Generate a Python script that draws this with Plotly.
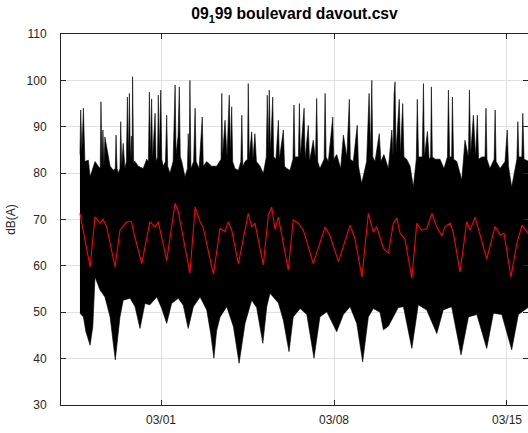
import pandas as pd
import plotly.graph_objects as go

# time axis: days relative to 2017-03-01 00:00, values in dB(A)
base = pd.Timestamp("2017-03-01")

# upper envelope of the raw levels (black band)
upper_days = [-3.28, -3.25, -3.20, -3.14, -3.08, -2.94, -2.87, -2.67, -2.54, -2.46,
              -2.43, -2.39, -2.35, -2.31, -2.27, -2.13, -2.06, -1.93, -1.85, -1.82,
              -1.78, -1.73, -1.66, -1.63, -1.59, -1.53, -1.46, -1.40, -1.36, -1.32,
              -1.28, -1.24, -1.20, -1.17, -1.15, -1.11, -1.05, -0.92, -0.72, -0.58,
              -0.51, -0.47, -0.43, -0.38, -0.34, -0.24, -0.20, -0.14, -0.11, -0.07,
              -0.01, 0.03, 0.09, 0.18, 0.23, 0.27, 0.36, 0.49, 0.57, 0.61,
              0.69, 0.74, 0.78, 0.84, 0.97, 1.07, 1.10, 1.14, 1.17, 1.21,
              1.32, 1.38, 1.42, 1.54, 1.67, 1.71, 1.85, 2.05, 2.25, 2.43,
              2.46, 2.49, 2.59, 2.67, 2.76, 2.81, 2.86, 2.90, 2.99, 3.13,
              3.23, 3.27, 3.31, 3.40, 3.50, 3.53, 3.57, 3.67, 3.72, 3.80,
              3.86, 4.01, 4.14, 4.26, 4.30, 4.34, 4.38, 4.43, 4.52, 4.56,
              4.65, 4.75, 4.79, 4.95, 5.00, 5.09, 5.22, 5.34, 5.38, 5.42,
              5.56, 5.60, 5.64, 5.79, 5.83, 5.96, 6.01, 6.16, 6.25, 6.30,
              6.34, 6.43, 6.60, 6.64, 6.68, 6.77, 6.95, 6.99, 7.11, 7.27,
              7.38, 7.52, 7.62, 7.66, 7.78, 7.94, 7.99, 8.12, 8.32, 8.42,
              8.48, 8.53, 8.57, 8.66, 8.83, 8.90, 9.02, 9.20, 9.34, 9.39,
              9.43, 9.47, 9.51, 9.64, 9.69, 9.78, 9.83, 9.94, 10.08, 10.21,
              10.33, 10.37, 10.42, 10.57, 10.62, 10.66, 10.78, 10.85, 10.91, 10.94,
              10.98, 11.09, 11.29, 11.45, 11.59, 11.63, 11.68, 11.76, 11.79, 11.84,
              11.97, 12.17, 12.30, 12.44, 12.48, 12.53, 12.64, 12.73, 12.80, 12.85,
              12.98, 13.11, 13.15, 13.19, 13.31, 13.48, 13.52, 13.56, 13.72, 13.92,
              14.01, 14.06, 14.19, 14.40, 14.44, 14.48, 14.60, 14.64, 14.69, 14.90]
upper_db = [84.0, 93.6, 84.5, 94.0, 82.5, 82.8, 79.2, 82.5, 81.5, 81.0,
            95.4, 82.5, 89.3, 81.5, 87.8, 84.0, 81.5, 80.6, 81.0, 88.2,
            81.0, 80.0, 81.0, 91.1, 81.5, 86.4, 81.0, 82.5, 96.4, 83.0,
            97.2, 82.5, 88.0, 82.5, 100.8, 82.5, 82.5, 81.5, 81.0, 83.0,
            82.5, 97.5, 83.5, 96.0, 83.0, 92.9, 82.5, 83.5, 96.8, 84.0,
            97.9, 83.0, 81.5, 82.5, 92.5, 81.5, 80.0, 82.5, 99.0, 84.0,
            88.0, 98.6, 83.5, 82.5, 79.2, 81.0, 88.5, 82.5, 100.0, 81.0,
            82.5, 94.0, 82.5, 81.0, 92.1, 81.5, 82.5, 81.5, 81.5, 83.0,
            97.2, 83.5, 91.4, 83.5, 96.8, 84.5, 94.3, 82.5, 81.0, 80.6,
            82.5, 92.5, 81.5, 82.5, 83.0, 99.3, 83.5, 88.9, 83.0, 88.5,
            82.5, 81.5, 79.9, 83.5, 96.8, 84.5, 97.9, 84.5, 96.4, 83.5,
            83.0, 91.4, 83.0, 89.3, 81.5, 81.0, 80.6, 83.0, 94.7, 83.5,
            83.5, 95.0, 83.5, 94.0, 83.0, 90.3, 82.5, 87.1, 83.0, 96.1,
            82.5, 81.0, 83.0, 97.2, 83.5, 82.5, 92.1, 83.0, 84.0, 81.0,
            88.2, 83.5, 95.9, 83.0, 82.5, 90.3, 81.5, 77.8, 82.5, 97.2,
            84.5, 100.0, 83.5, 82.5, 88.5, 82.5, 84.0, 81.0, 89.3, 83.5,
            96.8, 99.7, 84.5, 95.9, 84.0, 95.0, 83.5, 83.0, 81.5, 77.0,
            83.0, 95.9, 83.5, 83.5, 99.3, 83.5, 89.0, 83.0, 83.5, 98.6,
            83.5, 83.0, 83.0, 81.0, 83.5, 97.9, 83.5, 83.5, 96.4, 83.0,
            82.5, 78.5, 87.1, 83.5, 97.9, 84.0, 92.5, 83.5, 92.5, 83.0,
            83.5, 83.5, 94.0, 83.0, 81.0, 83.0, 93.6, 82.5, 81.0, 82.5,
            89.3, 81.5, 77.0, 83.0, 91.1, 83.5, 83.5, 92.9, 83.0, 82.5]

# lower envelope of the raw levels
lower_days = [-3.28, -3.14, -3.04, -2.87, -2.76, -2.67, -2.47, -2.27, -2.06, -1.85,
              -1.66, -1.53, -1.25, -1.05, -0.85, -0.65, -0.45, -0.17, 0.03, 0.23,
              0.43, 0.70, 0.90, 1.10, 1.31, 1.58, 1.85, 2.01, 2.14, 2.25,
              2.39, 2.66, 2.93, 3.16, 3.40, 3.67, 3.87, 4.12, 4.28, 4.41,
              4.75, 4.95, 5.18, 5.35, 5.63, 5.90, 6.19, 6.43, 6.71, 7.11,
              7.38, 7.65, 7.92, 8.16, 8.39, 8.59, 8.86, 9.00, 9.20, 9.40,
              9.60, 9.81, 10.15, 10.41, 10.75, 11.16, 11.42, 11.76, 12.14, 12.44,
              12.78, 13.18, 13.45, 13.79, 14.19, 14.46, 14.90]
lower_db = [49.8, 49.0, 45.8, 42.9, 46.9, 57.6, 54.8, 53.3, 49.0, 39.7,
            49.0, 52.6, 53.0, 51.2, 46.5, 51.9, 51.6, 53.3, 50.8, 47.6,
            51.9, 53.0, 51.5, 46.5, 51.2, 53.3, 50.5, 45.4, 40.1, 46.0,
            49.0, 51.2, 46.9, 39.0, 47.6, 52.6, 51.0, 43.3, 51.2, 54.1,
            52.0, 48.3, 41.5, 49.0, 50.8, 49.5, 40.1, 49.0, 50.1, 45.8,
            49.5, 51.2, 47.6, 39.3, 49.0, 50.8, 50.0, 46.2, 47.0, 49.0,
            51.0, 51.2, 42.2, 51.6, 50.5, 45.4, 50.5, 51.2, 40.8, 49.0,
            49.5, 42.2, 49.8, 49.5, 41.9, 49.5, 51.2]

# hourly average (red line)
avg_days = [-3.28, -2.87, -2.67, -2.47, -2.34, -2.20, -1.86, -1.66, -1.39, -1.19,
            -1.12, -0.78, -0.45, -0.24, -0.11, -0.04, 0.23, 0.57, 0.70, 1.17,
            1.38, 1.58, 1.70, 2.12, 2.39, 2.59, 2.72, 2.86, 3.13, 3.40,
            3.53, 3.67, 3.80, 4.14, 4.34, 4.48, 4.61, 4.75, 5.15, 5.35,
            5.56, 5.76, 5.96, 6.16, 6.64, 6.84, 7.18, 7.65, 7.85, 8.13,
            8.39, 8.59, 8.73, 9.00, 9.20, 9.40, 9.54, 9.67, 9.87, 10.15,
            10.35, 10.55, 10.75, 10.96, 11.16, 11.36, 11.49, 11.70, 11.83, 12.10,
            12.37, 12.51, 12.71, 13.18, 13.52, 13.72, 13.88, 14.16, 14.40, 14.61,
            14.85]
avg_db = [71.3, 59.8, 70.6, 69.2, 70.0, 68.4, 59.8, 67.7, 69.5, 69.5,
          67.5, 60.5, 69.5, 68.4, 69.5, 67.7, 61.2, 73.5, 71.7, 58.4,
          72.7, 69.5, 68.4, 58.2, 68.1, 67.4, 69.5, 67.7, 60.5, 67.7,
          71.3, 68.4, 69.2, 60.2, 70.9, 72.7, 67.9, 70.5, 59.1, 69.9,
          69.2, 67.7, 63.8, 60.5, 68.4, 66.5, 60.9, 68.8, 65.8, 57.6,
          71.3, 67.3, 68.4, 63.8, 62.7, 69.2, 70.3, 67.1, 65.8, 57.3,
          69.2, 67.7, 68.0, 71.3, 68.4, 66.5, 68.4, 69.2, 67.1, 58.7,
          69.5, 67.7, 70.5, 61.5, 68.5, 66.7, 67.0, 57.6, 64.9, 68.8,
          67.0]

tick_days = [0, 7, 14]
y_ticks = [30, 40, 50, 60, 70, 80, 90, 100, 110]


def to_time(days):
    return base + pd.to_timedelta(pd.Series(days, dtype=float), unit="D")


band_t = pd.concat([to_time(upper_days), to_time(lower_days[::-1])])
band_y = upper_db + lower_db[::-1]

fig = go.Figure()
fig.add_trace(go.Scatter(x=band_t, y=band_y, fill="toself", fillcolor="black",
                         mode="lines", line=dict(color="black", width=0.6),
                         hoverinfo="skip"))
fig.add_trace(go.Scatter(x=to_time(avg_days), y=avg_db, mode="lines",
                         line=dict(color="#ff0000", width=1.1)))

axis_font = dict(family="Liberation Sans, Arial, sans-serif", size=12, color="#262626")
fig.update_layout(
    width=528, height=433,
    margin=dict(l=61, r=0, t=34, b=28, autoexpand=False),
    paper_bgcolor="white", plot_bgcolor="white",
    showlegend=False,
    title=dict(text="<b>09<sub>1</sub>99 boulevard davout.csv</b>",
               x=0.5, xref="paper", xanchor="center",
               y=0.981, yref="container", yanchor="top",
               font=dict(family="Liberation Sans, Arial, sans-serif", size=15.7, color="black")),
)
fig.update_xaxes(
    range=[base + pd.Timedelta(days=-4.047), base + pd.Timedelta(days=14.85)],
    tickvals=list(to_time(tick_days)), tickformat="%m/%d",
    ticks="inside", ticklen=5, tickcolor="#262626",
    showline=True, linecolor="#262626", linewidth=1, mirror="ticks",
    showgrid=True, gridcolor="#e1e1e1", gridwidth=1, zeroline=False,
    tickfont=axis_font, ticklabelstandoff=4,
)
fig.update_yaxes(
    range=[30, 110], tickvals=y_ticks,
    ticks="inside", ticklen=5, tickcolor="#262626",
    showline=True, linecolor="#262626", linewidth=1, mirror="ticks",
    showgrid=True, gridcolor="#e1e1e1", gridwidth=1, zeroline=False,
    tickfont=axis_font, ticklabelstandoff=11,
    title=dict(text="dB(A)", font=axis_font, standoff=8),
)

# drop the page's default body margin so the figure fills the window exactly
fig.write_html("out.html", config={"displayModeBar": False},
               post_script="document.body.style.margin='0';")
